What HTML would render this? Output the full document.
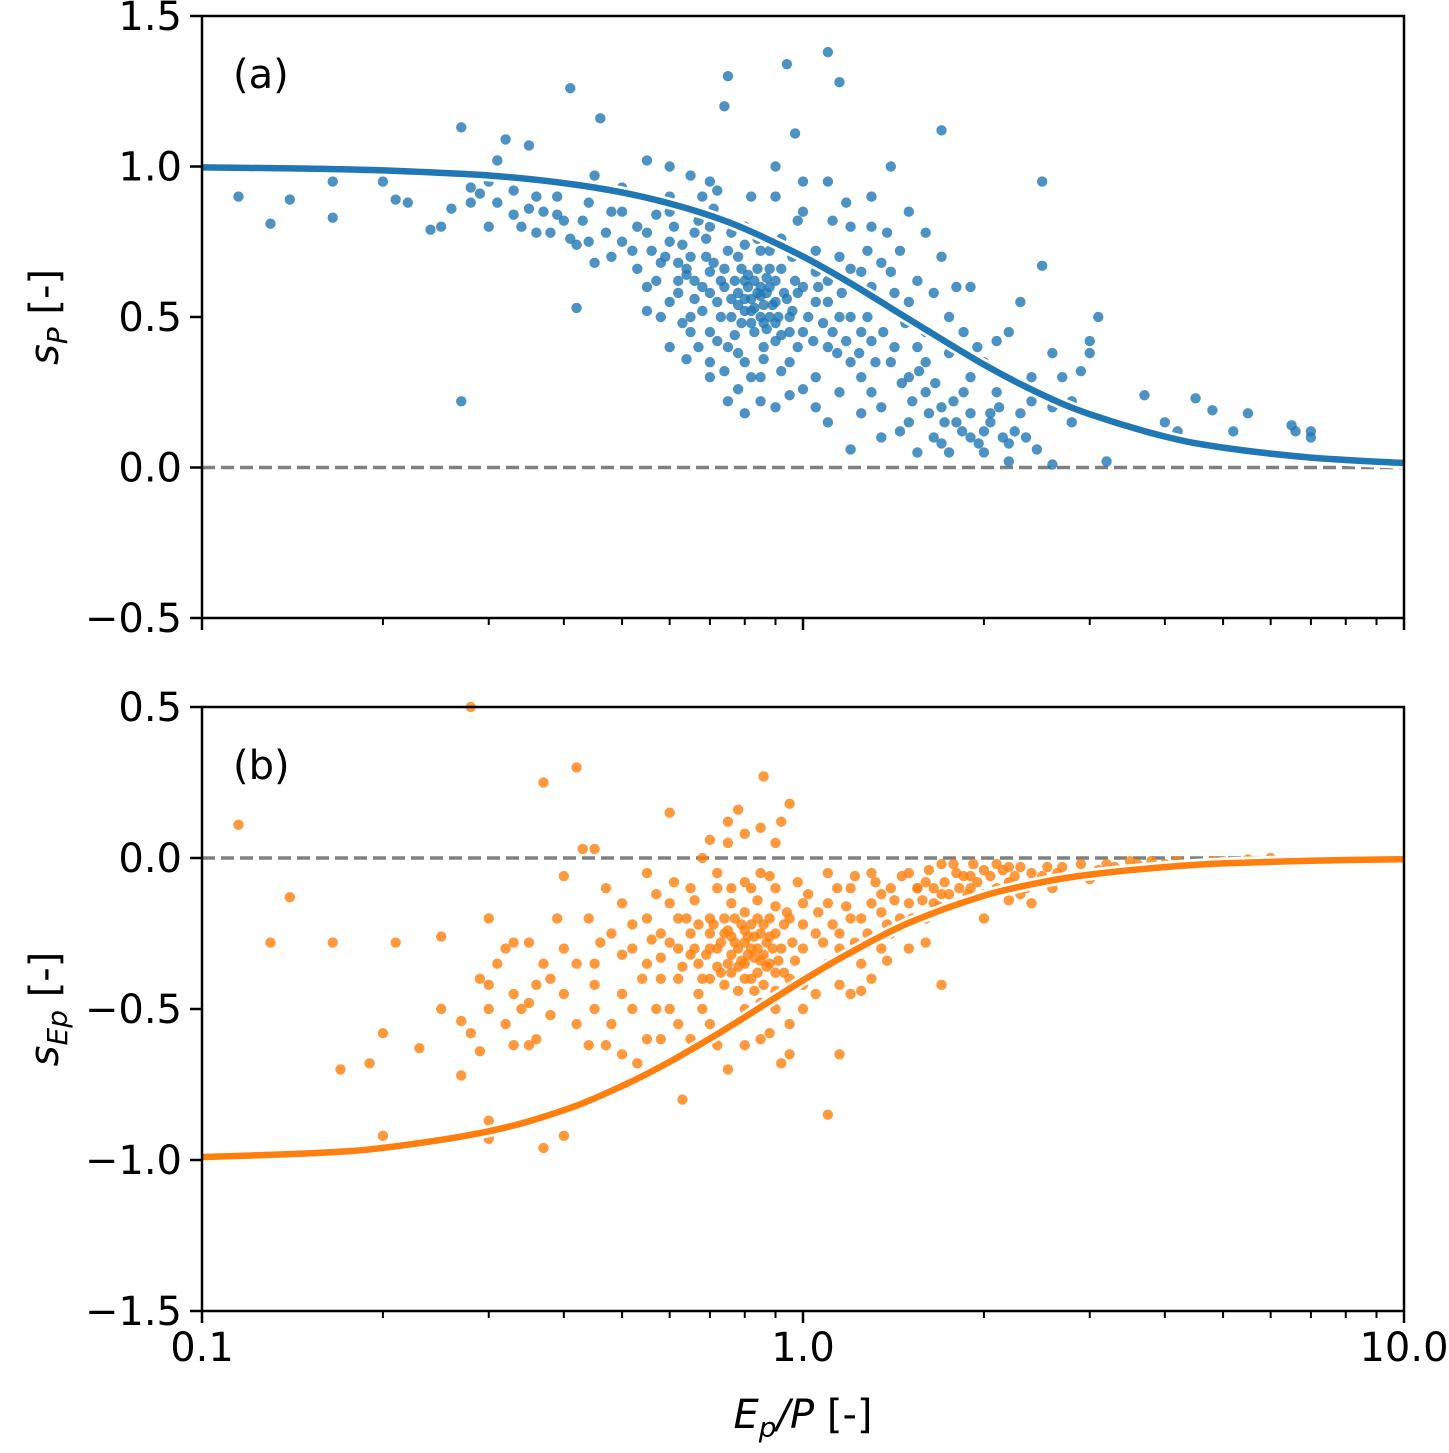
<!DOCTYPE html>
<html><head><meta charset="utf-8"><style>
html,body{margin:0;padding:0;background:#fff;}
svg text{font-family:"DejaVu Sans","Liberation Sans",sans-serif;fill:#000;}
</style></head><body>
<svg id="chart" xmlns="http://www.w3.org/2000/svg" width="1449" height="1448" viewBox="0 0 1449 1448"></svg>
<script>
// ---- data ----
const curveX = [0.1,0.15,0.2,0.3,0.4,0.5,0.6,0.7,0.8,1.0,1.2,1.5,2,2.5,3,4,5,7,10];
const curveP = [0.997,0.993,0.987,0.970,0.945,0.914,0.877,0.837,0.793,0.701,0.612,0.493,0.342,0.242,0.177,0.103,0.066,0.033,0.015];
const curveEp = [-0.990,-0.978,-0.960,-0.905,-0.835,-0.755,-0.675,-0.598,-0.527,-0.405,-0.313,-0.215,-0.125,-0.080,-0.055,-0.030,-0.018,-0.009,-0.004];
const pointsP = [[0.115,0.90],[0.13,0.81],[0.14,0.89],[0.165,0.83],[0.165,0.95],[0.2,0.95],[0.21,0.89],[0.24,0.79],[0.27,0.22],[0.27,1.13],[0.3,0.95],[0.32,1.09],[0.35,1.07],[0.41,1.26],[0.46,1.16],[0.75,1.30],[0.74,1.20],[0.94,1.34],[1.1,1.38],[1.15,1.28],[0.97,1.11],[1.7,1.12],[2.5,0.95],[3.1,0.50],[3.0,0.38],[3.7,0.24],[4.5,0.23],[4.8,0.19],[5.5,0.18],[6.5,0.14],[7.0,0.12],[7.0,0.10],[4.0,0.15],[4.2,0.12],[5.2,0.12],[6.6,0.12],[3.2,0.02],[2.6,0.01],[0.25,0.80],[0.22,0.88],[0.28,0.88],[0.34,0.80],[0.33,0.92],[0.37,0.85],[0.4,0.82],[0.42,0.74],[0.38,0.78],[0.29,0.91],[0.31,1.02],[0.45,0.97],[0.5,0.93],[0.55,1.02],[0.6,0.9],[0.65,0.97],[0.5,0.75],[0.45,0.68],[0.55,0.6],[0.42,0.53],[0.6,0.4],[0.65,0.5],[0.7,0.35],[0.75,0.22],[0.8,0.18],[0.9,0.2],[1.0,0.26],[1.1,0.15],[1.2,0.06],[0.85,0.72],[0.8,0.62],[0.9,0.55],[0.85,0.5],[0.78,0.58],[0.82,0.48],[0.88,0.6],[0.92,0.66],[0.7,0.65],[0.72,0.55],[0.68,0.6],[0.65,0.7],[0.62,0.62],[0.6,0.75],[0.58,0.68],[0.95,0.5],[1.0,0.45],[1.05,0.55],[1.1,0.4],[1.2,0.5],[1.3,0.42],[1.4,0.35],[1.5,0.3],[1.6,0.25],[1.7,0.2],[1.8,0.15],[1.9,0.1],[2.0,0.12],[2.2,0.08],[1.3,0.6],[1.4,0.65],[1.5,0.55],[1.6,0.45],[1.8,0.4],[2.0,0.35],[2.2,0.45],[2.4,0.3],[2.6,0.2],[2.8,0.15],[1.2,0.8],[1.3,0.9],[1.4,1.0],[1.1,0.95],[1.0,0.85],[0.9,0.9],[0.8,0.8],[0.75,0.72],[0.7,0.8],[1.5,0.85],[1.7,0.7],[1.9,0.6],[2.3,0.55],[2.5,0.67],[2.7,0.3],[1.0,0.7],[1.1,0.62],[0.95,0.35],[1.05,0.3],[1.3,0.25],[1.5,0.15],[1.7,0.08],[1.45,0.12],[0.7,0.45],[0.75,0.4],[0.8,0.35],[0.85,0.3],[0.9,0.42],[0.82,0.56],[0.86,0.54],[0.84,0.58],[0.8,0.52],[0.88,0.5],[0.76,0.5],[0.83,0.62],[0.87,0.46],[0.79,0.66],[0.93,0.58],[0.97,0.62],[0.73,0.62],[0.66,0.56],[0.63,0.48],[0.56,0.72],[0.53,0.8],[0.48,0.85],[0.44,0.88],[0.39,0.9],[0.36,0.9],[1.15,0.7],[1.25,0.65],[1.35,0.55],[1.2,0.35],[1.25,0.45],[2.1,0.25],[2.3,0.18],[1.9,0.3],[2.0,0.05],[1.6,0.35],[1.75,0.5],[0.6,0.85],[0.68,0.9],[0.72,0.92],[0.66,0.78],[0.81,0.6],[0.83,0.53],[0.85,0.57],[0.87,0.63],[0.78,0.54],[0.74,0.6],[0.9,0.48],[0.95,0.45],[0.69,0.7],[0.64,0.64],[1.05,0.65],[1.15,0.5],[1.25,0.3],[1.35,0.2],[1.55,0.4],[1.65,0.1],[1.85,0.25],[2.05,0.18],[2.15,0.1],[0.77,0.44],[0.86,0.4],
[0.62,0.58],[0.64,0.66],[0.66,0.62],[0.68,0.52],[0.7,0.58],[0.71,0.68],[0.73,0.5],[0.74,0.66],[0.76,0.56],[0.77,0.62],[0.78,0.7],[0.79,0.48],[0.8,0.56],[0.81,0.64],[0.82,0.52],[0.83,0.45],[0.84,0.66],[0.85,0.6],[0.86,0.48],[0.87,0.58],[0.88,0.66],[0.89,0.54],[0.9,0.62],[0.91,0.5],[0.92,0.44],[0.94,0.56],[0.96,0.52],[0.98,0.58],[1.0,0.6],[1.02,0.5],[1.04,0.42],[1.06,0.6],[1.08,0.48],[1.1,0.55],[1.12,0.45],[1.14,0.38],[1.16,0.58],[1.18,0.42],[1.22,0.6],[1.24,0.38],[1.28,0.5],[1.32,0.35],[1.36,0.45],[1.42,0.4],[1.46,0.28],[1.52,0.22],[1.56,0.32],[1.62,0.18],[1.66,0.28],[1.72,0.15],[1.78,0.22],[1.84,0.12],[1.9,0.18],[1.96,0.08],[2.05,0.15],[2.12,0.2],[2.25,0.12],[2.35,0.1],[2.45,0.06],[0.55,0.78],[0.57,0.84],[0.59,0.7],[0.61,0.8],[0.63,0.74],[0.67,0.82],[0.69,0.76],[0.71,0.86],[0.5,0.85],[0.52,0.72],[0.47,0.78],[0.43,0.82],[0.41,0.76],[0.39,0.84],[0.35,0.86],[0.33,0.84],[0.31,0.88],[0.28,0.93],[0.26,0.86],[0.3,0.8],[0.36,0.78],[0.44,0.75],[0.48,0.7],[0.53,0.66],[0.57,0.62],[0.6,0.55],[0.62,0.68],[0.65,0.45],[0.67,0.4],[0.72,0.42],[0.74,0.32],[0.78,0.38],[0.82,0.3],[0.86,0.36],[0.92,0.32],[0.98,0.4],[0.76,0.78],[0.8,0.74],[0.84,0.76],[0.88,0.72],[0.92,0.76],[0.96,0.7],[1.05,0.72],[1.12,0.82],[1.2,0.66],[1.28,0.72],[1.35,0.68],[1.42,0.58],[1.48,0.48],[1.55,0.62],[1.65,0.58],[1.75,0.38],[1.85,0.45],[1.95,0.4],[2.1,0.42],[2.2,0.3],[2.4,0.22],[2.6,0.38],[2.9,0.32],[3.0,0.42],[1.38,0.78],[1.45,0.72],[1.6,0.78],[1.8,0.6],[0.7,0.3],[0.78,0.26],[0.85,0.22],[0.95,0.24],[1.05,0.2],[1.15,0.25],[1.25,0.18],[1.35,0.1],[1.55,0.05],[1.75,0.05],[2.2,0.02],[2.8,0.22],[0.58,0.5],[0.55,0.52],[0.64,0.36],[1.3,0.8],[1.18,0.88],[1.0,0.95],[0.9,1.0],[0.82,0.9],[0.7,0.95],[0.6,1.0],[0.98,0.82]];
const pointsEp = [[0.115,0.11],[0.13,-0.28],[0.14,-0.13],[0.165,-0.28],[0.17,-0.7],[0.19,-0.68],[0.2,-0.58],[0.2,-0.92],[0.21,-0.28],[0.23,-0.63],[0.25,-0.5],[0.25,-0.26],[0.27,-0.54],[0.27,-0.72],[0.28,0.5],[0.29,-0.4],[0.3,-0.2],[0.3,-0.87],[0.3,-0.93],[0.32,-0.3],[0.33,-0.62],[0.35,-0.48],[0.37,-0.96],[0.37,0.25],[0.4,-0.06],[0.42,0.3],[0.43,0.03],[0.45,0.03],[0.4,-0.92],[0.35,-0.28],[0.38,-0.4],[0.42,-0.55],[0.45,-0.35],[0.48,-0.25],[0.5,-0.45],[0.52,-0.3],[0.55,-0.6],[0.5,-0.65],[0.55,-0.2],[0.58,-0.4],[0.6,-0.15],[0.62,-0.3],[0.6,0.15],[0.63,-0.8],[0.65,-0.25],[0.67,-0.35],[0.7,-0.2],[0.7,-0.4],[0.72,-0.3],[0.74,-0.25],[0.75,-0.35],[0.76,-0.15],[0.78,-0.3],[0.8,-0.28],[0.8,-0.35],[0.82,-0.22],[0.82,-0.4],[0.84,-0.3],[0.85,-0.25],[0.86,-0.32],[0.88,-0.2],[0.9,-0.38],[0.78,0.16],[0.86,0.27],[0.95,0.18],[0.75,0.05],[0.85,-0.05],[0.65,-0.1],[0.68,0.0],[0.9,-0.1],[0.95,-0.2],[1.0,-0.3],[1.05,-0.25],[1.1,-0.35],[1.0,-0.5],[1.05,-0.45],[1.1,-0.85],[1.15,-0.65],[0.75,-0.7],[0.85,-0.6],[0.95,-0.65],[0.8,-0.5],[0.9,-0.5],[1.1,-0.15],[1.15,-0.25],[1.2,-0.1],[1.25,-0.2],[1.3,-0.15],[1.35,-0.3],[1.4,-0.1],[1.5,-0.05],[1.5,-0.15],[1.6,-0.08],[1.7,-0.02],[1.7,-0.12],[1.8,-0.05],[1.9,-0.1],[2.0,-0.04],[2.1,-0.02],[2.2,-0.08],[2.3,-0.12],[2.5,-0.06],[2.7,-0.03],[3.0,-0.07],[3.2,-0.02],[3.5,-0.01],[4.0,-0.02],[4.5,-0.02],[5.0,-0.01],[6.0,0.0],[1.7,-0.42],[1.3,-0.4],[1.2,-0.45],[0.7,-0.55],[0.72,-0.1],[0.6,-0.5],[0.58,-0.25],[0.82,-0.1],[0.9,-0.25],[0.77,-0.28],[0.79,-0.22],[0.81,-0.32],[0.83,-0.26],[0.76,-0.32],[0.87,-0.28],[0.74,-0.2],[0.8,-0.18],[0.84,-0.38],[0.92,-0.3],[0.96,-0.28],[0.66,-0.3],[0.64,-0.2],[1.15,-0.3],[1.25,-0.35],[1.4,-0.25],[1.6,-0.2],[1.8,-0.15],[2.0,-0.2],[2.4,-0.15],[1.1,-0.05],[1.3,-0.05],[1.45,-0.2],[0.5,-0.15],[0.45,-0.5],[0.4,-0.45],[0.36,-0.6],[0.33,-0.45],[0.3,-0.42],[0.28,-0.58],[0.95,-0.4],[1.0,-0.15],[0.55,-0.35],[0.62,-0.4],[0.67,-0.45],[0.7,-0.25],[0.88,-0.35],[0.93,-0.22],[0.78,-0.36],[0.8,-0.24],[0.83,-0.33],[0.76,-0.26],[0.86,-0.22],[0.73,-0.38],[0.69,-0.32],[0.9,-0.16],[1.0,-0.22],[1.2,-0.2],[1.35,-0.12],[1.55,-0.1],[1.65,-0.15],[1.9,-0.06],[2.2,-0.03],
[0.7,-0.3],[0.71,-0.22],[0.72,-0.36],[0.73,-0.28],[0.74,-0.42],[0.75,-0.24],[0.76,-0.38],[0.77,-0.2],[0.78,-0.44],[0.79,-0.34],[0.8,-0.4],[0.81,-0.26],[0.82,-0.3],[0.83,-0.44],[0.84,-0.2],[0.85,-0.34],[0.86,-0.42],[0.87,-0.36],[0.88,-0.26],[0.89,-0.3],[0.9,-0.44],[0.91,-0.34],[0.93,-0.38],[0.94,-0.18],[0.97,-0.34],[0.6,-0.28],[0.62,-0.2],[0.63,-0.36],[0.65,-0.32],[0.67,-0.22],[0.68,-0.4],[0.58,-0.33],[0.56,-0.27],[0.54,-0.4],[0.52,-0.22],[0.57,-0.12],[0.61,-0.08],[0.66,-0.14],[0.72,-0.05],[0.8,-0.08],[0.88,-0.06],[0.98,-0.08],[1.02,-0.12],[1.06,-0.18],[1.08,-0.28],[1.12,-0.22],[1.14,-0.1],[1.18,-0.16],[1.22,-0.28],[1.22,-0.06],[1.28,-0.25],[1.32,-0.08],[1.35,-0.18],[1.38,-0.22],[1.42,-0.14],[1.46,-0.06],[1.52,-0.2],[1.55,-0.1],[1.58,-0.14],[1.62,-0.04],[1.65,-0.1],[1.68,-0.16],[1.72,-0.08],[1.75,-0.12],[1.78,-0.02],[1.82,-0.1],[1.85,-0.06],[1.88,-0.12],[1.92,-0.02],[1.95,-0.08],[2.0,-0.12],[2.05,-0.06],[2.1,-0.1],[2.15,-0.04],[2.2,-0.14],[2.25,-0.06],[2.3,-0.03],[2.35,-0.1],[2.4,-0.05],[2.45,-0.08],[2.55,-0.03],[2.6,-0.1],[2.65,-0.05],[2.8,-0.06],[2.9,-0.02],[3.1,-0.04],[3.3,-0.03],[3.6,-0.02],[3.8,-0.01],[4.2,-0.01],[4.8,-0.01],[5.5,-0.005],[0.45,-0.42],[0.46,-0.28],[0.48,-0.55],[0.5,-0.32],[0.52,-0.5],[0.44,-0.62],[0.42,-0.35],[0.4,-0.3],[0.38,-0.52],[0.36,-0.42],[0.34,-0.5],[0.32,-0.55],[0.3,-0.5],[0.29,-0.64],[0.31,-0.35],[0.33,-0.28],[0.35,-0.62],[0.37,-0.35],[0.39,-0.2],[0.44,-0.2],[0.47,-0.62],[0.53,-0.68],[0.57,-0.5],[0.58,-0.6],[0.62,-0.55],[0.65,-0.6],[0.68,-0.5],[0.72,-0.62],[0.8,-0.62],[0.88,-0.58],[0.92,-0.68],[0.85,-0.48],[0.95,-0.55],[1.0,-0.42],[1.05,-0.38],[1.15,-0.42],[1.25,-0.44],[1.38,-0.34],[1.5,-0.3],[1.6,-0.28],[0.76,-0.1],[0.84,-0.14],[0.9,0.05],[0.8,0.08],[0.7,0.06],[0.75,0.12],[0.85,0.1],[0.92,0.12],[0.55,-0.05],[0.47,-0.1]];
const yTicksA = [-0.5,0.0,0.5,1.0,1.5];
const yTicksB = [-1.5,-1.0,-0.5,0.0,0.5];
const xTicks = [0.1,1.0,10.0];

const svg = document.getElementById('chart');
const NS = 'http://www.w3.org/2000/svg';
function mk(tag, attrs, parent){const e=document.createElementNS(NS,tag);for(const k in attrs)e.setAttribute(k,attrs[k]);(parent||svg).appendChild(e);return e;}
const X0=202, X1=1404;
function xs(v){return X0+(Math.log10(v)+1)/2*(X1-X0);}
function smooth(P){
  let d='M'+P[0][0].toFixed(1)+','+P[0][1].toFixed(1);
  for(let i=0;i<P.length-1;i++){
    const p0=P[i-1]||P[i], p1=P[i], p2=P[i+1], p3=P[i+2]||P[i+1];
    const c1=[p1[0]+(p2[0]-p0[0])/6, p1[1]+(p2[1]-p0[1])/6];
    const c2=[p2[0]-(p3[0]-p1[0])/6, p2[1]-(p3[1]-p1[1])/6];
    d+=' C'+c1[0].toFixed(1)+','+c1[1].toFixed(1)+' '+c2[0].toFixed(1)+','+c2[1].toFixed(1)+' '+p2[0].toFixed(1)+','+p2[1].toFixed(1);
  }
  return d;
}

function panel(name, top, bottom, ymin, ymax, pts, cx, cy, color, yTicks, label){
  const ys = v => bottom-(v-ymin)/(ymax-ymin)*(bottom-top);
  const g = mk('g',{});
  
  
  const z = mk('line',{x1:X0,x2:X1,y1:ys(0),y2:ys(0),stroke:'#808080','stroke-width':3.5,'stroke-dasharray':'13,6'},g);
  
  
  const pg = mk('g',{fill:color,'fill-opacity':0.8},g);
  
  
  pts.forEach(p=>{
    const c = mk('circle',{cx:xs(p[0]),cy:ys(p[1]),r:5.2},pg);
    
    
  });
  const d = smooth(cx.map((x,i)=>[xs(x),ys(cy[i])]));
  mk('path',{d:d,fill:'none',stroke:'#fff','stroke-width':12},g);
  const cp = mk('path',{d:d,fill:'none',stroke:color,'stroke-width':6.5},g);
  
  
  const fr = mk('rect',{x:X0,y:top,width:X1-X0,height:bottom-top,fill:'none',stroke:'#000','stroke-width':2.5},g);
  
  
  yTicks.forEach(t=>{
    const y=ys(t);
    mk('line',{x1:X0-12,x2:X0,y1:y,y2:y,stroke:'#000','stroke-width':2.5},g);
    const tx = mk('text',{x:X0-20,y:y+14,'font-size':40,'text-anchor':'end'},g);
    tx.textContent = (t<0?'\u2212':'')+Math.abs(t).toFixed(1);
    
    
  });
  for(let dec=0.1; dec<10; dec*=10){
    for(let m=1;m<10;m++){
      const v=dec*m, x=xs(v);
      mk('line',{x1:x,x2:x,y1:bottom,y2:bottom+(m===1?12:7),stroke:'#000','stroke-width':(m===1?2.5:2)},g);
    }
  }
  mk('line',{x1:X1,x2:X1,y1:bottom,y2:bottom+12,stroke:'#000','stroke-width':2.5},g);
  const lb = mk('text',{x:233,y:top+72,'font-size':40},g);
  lb.textContent = label;
  
  
}
panel('panel-a',16,618,-0.5,1.5,pointsP,curveX,curveP,'#1f77b4',yTicksA,'(a)');
panel('panel-b',707,1311,-1.5,0.5,pointsEp,curveX,curveEp,'#ff7f0e',yTicksB,'(b)');
xTicks.forEach(t=>{
  const tx = mk('text',{x:xs(t),y:1361,'font-size':40,'text-anchor':'middle'});
  tx.textContent = t.toFixed(1);
  
  
});
</script>
<div style="position:absolute;left:48px;top:317px;transform:translate(-50%,-50%) rotate(-90deg);font:40px 'DejaVu Sans',sans-serif;white-space:nowrap;"><i>s</i><sub style="font-size:28px"><i>P</i></sub> [-]</div>
<div style="position:absolute;left:48px;top:1009px;transform:translate(-50%,-50%) rotate(-90deg);font:40px 'DejaVu Sans',sans-serif;white-space:nowrap;"><i>s</i><sub style="font-size:28px"><i>Ep</i></sub> [-]</div>
<div style="position:absolute;left:803px;top:1418px;transform:translate(-50%,-50%);font:40px 'DejaVu Sans',sans-serif;white-space:nowrap;"><i>E</i><sub style="font-size:28px"><i>p</i></sub><i>/P</i> [-]</div>
</body></html>
